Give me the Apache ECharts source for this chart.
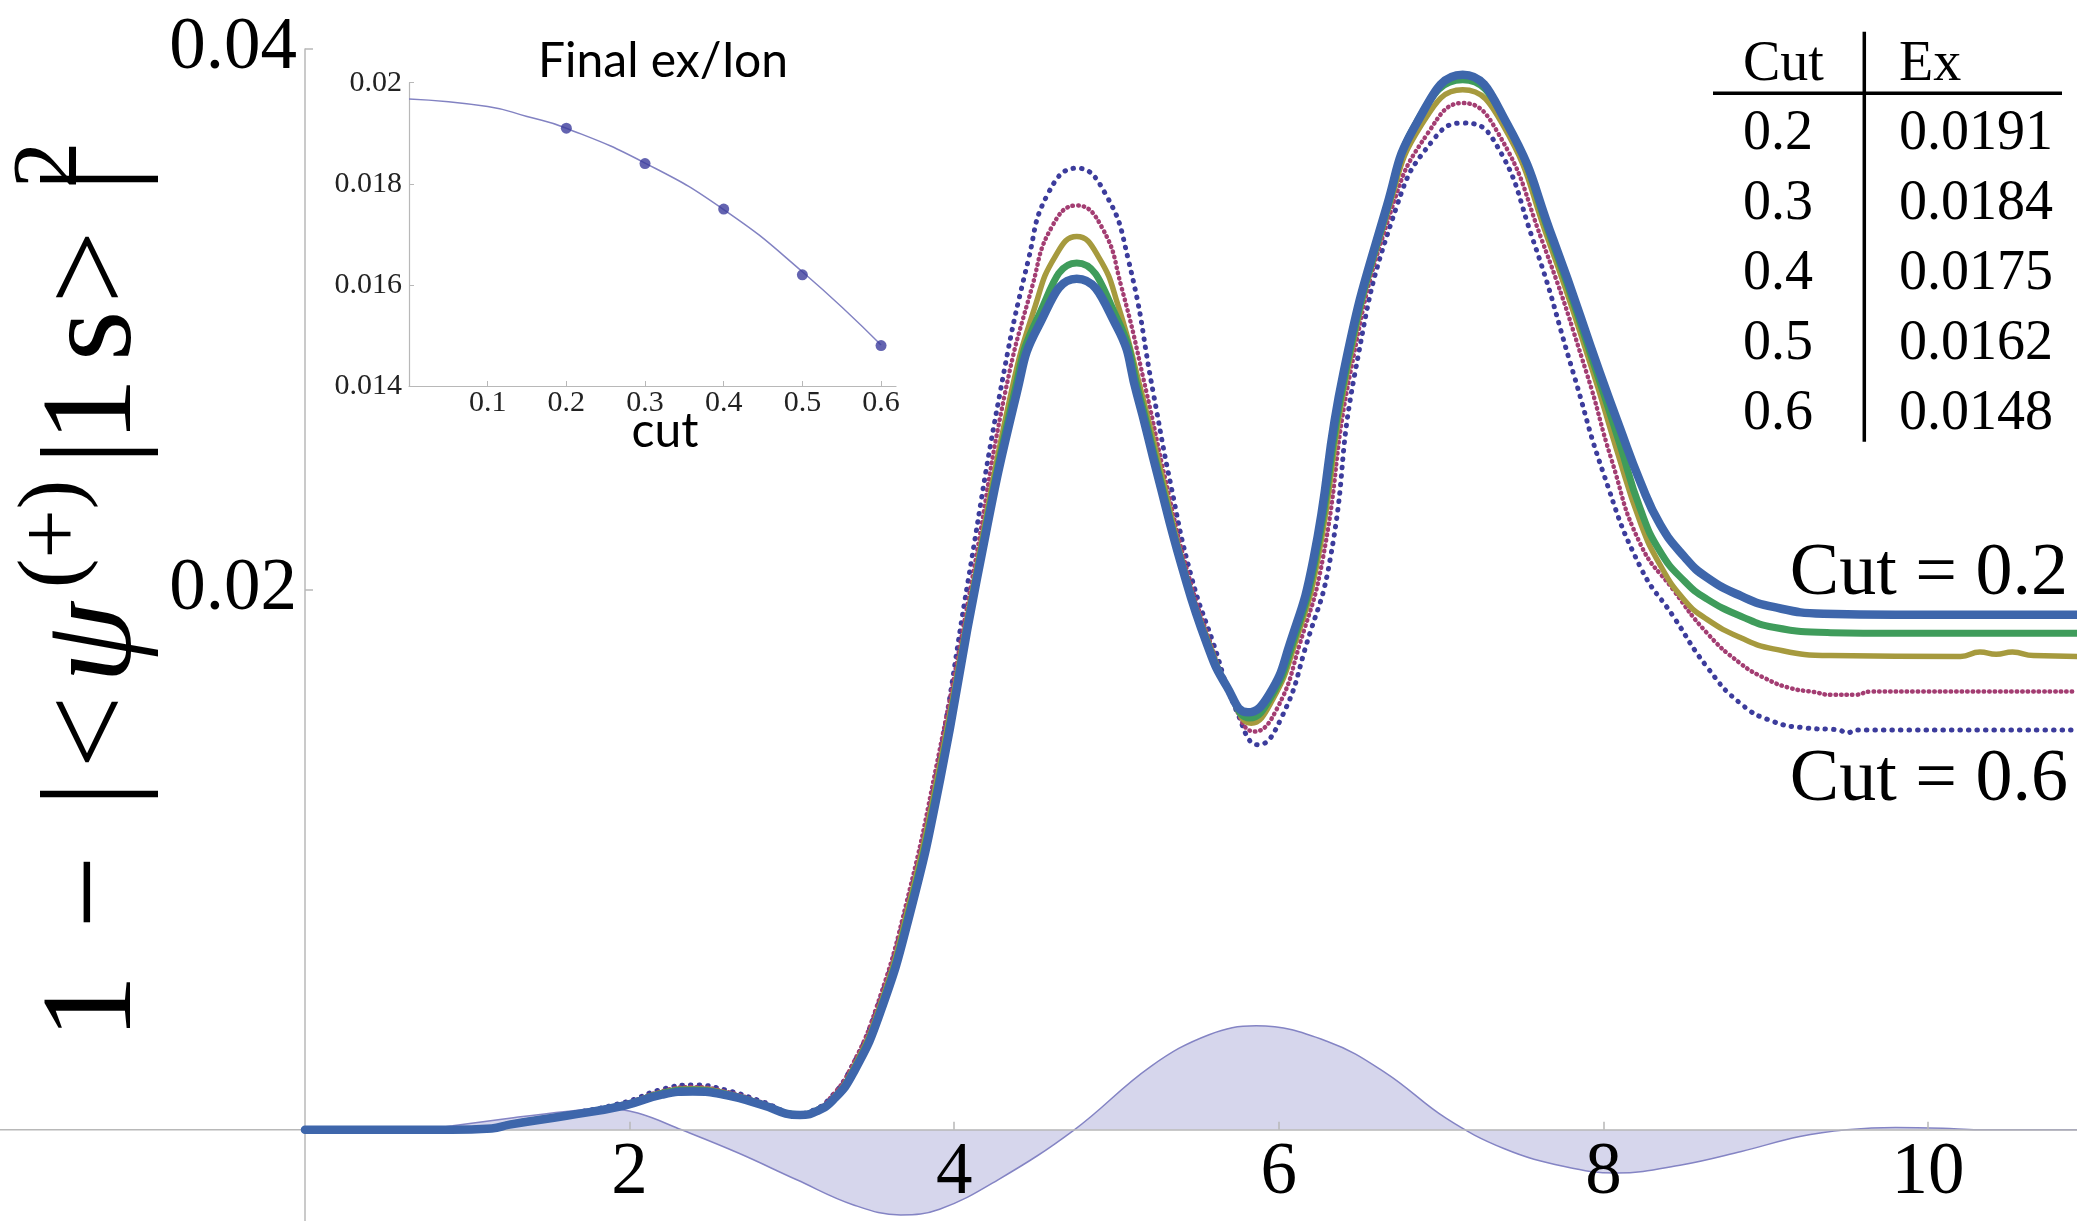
<!DOCTYPE html>
<html><head><meta charset="utf-8">
<script src="https://cdn.jsdelivr.net/npm/echarts@6/dist/echarts.min.js"></script>
<style>html,body{margin:0;padding:0;background:#fff;}#chart{width:2077px;height:1221px;}</style>
</head><body><div id="chart"></div>
<script>
// ---------- data ----------
const xTickValues = [2, 4, 6, 8, 10];
const yTickValues = [0.02, 0.04];

const cut02 = [[0,0],[0.9,0],[1.15,0.00005],[1.26,0.00019],[1.61,0.00052],[1.97,0.0009],[2.2,0.0013],[2.39,0.00142],[2.6,0.00128],[2.8,0.00095],[3.05,0.00055],[3.15,0.00068],[3.255,0.00111],[3.378,0.0021],[3.543,0.00432],[3.728,0.00802],[3.913,0.01295],[4.139,0.02036],[4.385,0.02726],[4.518,0.02973],[4.755,0.0315],[5.001,0.02973],[5.124,0.02726],[5.25,0.0243],[5.4,0.0209],[5.556,0.018],[5.68,0.0164],[5.81,0.01545],[5.94,0.0161],[6.069,0.018],[6.213,0.0211],[6.398,0.028],[6.665,0.03417],[6.85,0.03726],[7.133,0.03905],[7.404,0.03726],[7.691,0.03294],[7.979,0.028],[8.1,0.026],[8.226,0.024],[8.35,0.0224],[8.5,0.0212],[8.636,0.02045],[8.85,0.01975],[9.047,0.01935],[9.355,0.0191],[9.8,0.01906],[10.918,0.01906]];
const cut03 = [[0,0],[0.9,0],[1.15,0.00005],[1.26,0.0002],[1.61,0.00053],[1.97,0.00092],[2.2,0.00135],[2.39,0.00147],[2.6,0.00131],[2.8,0.00097],[3.05,0.00056],[3.15,0.0007],[3.253,0.00112],[3.375,0.00214],[3.54,0.00438],[3.725,0.00815],[3.91,0.0131],[4.133,0.02036],[4.37,0.02726],[4.51,0.03],[4.755,0.03208],[5.006,0.03],[5.138,0.02726],[5.26,0.0243],[5.41,0.0208],[5.562,0.018],[5.69,0.0163],[5.82,0.01524],[5.95,0.016],[6.085,0.018],[6.225,0.0211],[6.41,0.028],[6.672,0.03417],[6.86,0.0374],[7.133,0.03886],[7.39,0.0374],[7.68,0.03294],[7.96,0.028],[8.1,0.0254],[8.226,0.023],[8.35,0.0214],[8.5,0.0203],[8.636,0.01965],[8.85,0.019],[9.047,0.0186],[9.4,0.0184],[9.8,0.01838],[10.918,0.01838]];
const cut04 = [[0,0],[0.9,0],[1.15,0.00005],[1.26,0.0002],[1.61,0.00054],[1.97,0.00094],[2.2,0.00138],[2.39,0.00152],[2.6,0.00135],[2.8,0.001],[3.05,0.00057],[3.15,0.00072],[3.25,0.00115],[3.37,0.00218],[3.535,0.00445],[3.72,0.0083],[3.905,0.0133],[4.125,0.02036],[4.35,0.02726],[4.5,0.0305],[4.62,0.0323],[4.755,0.03306],[4.89,0.0323],[5.01,0.0305],[5.155,0.02726],[5.28,0.0242],[5.42,0.0207],[5.57,0.018],[5.7,0.0162],[5.83,0.01505],[5.96,0.0159],[6.1,0.018],[6.24,0.0211],[6.42,0.028],[6.68,0.03417],[6.88,0.0372],[7.133,0.03849],[7.38,0.0372],[7.66,0.03294],[7.938,0.028],[8.08,0.0252],[8.226,0.0225],[8.35,0.0209],[8.5,0.0196],[8.636,0.0189],[8.85,0.0182],[9.047,0.0178],[9.4,0.01755],[10.2,0.01752],[10.32,0.01768],[10.42,0.0176],[10.52,0.01768],[10.65,0.01755],[10.918,0.01752]];
const cut05 = [[0,0],[0.9,0],[1.15,0.00005],[1.26,0.0002],[1.61,0.00056],[1.97,0.00098],[2.2,0.00143],[2.39,0.00158],[2.6,0.0014],[2.8,0.00104],[3.05,0.00058],[3.15,0.00075],[3.24,0.0012],[3.36,0.00225],[3.525,0.0046],[3.71,0.0085],[3.895,0.0136],[4.11,0.02036],[4.313,0.02726],[4.48,0.0312],[4.6,0.0334],[4.755,0.03421],[4.91,0.0334],[5.03,0.0312],[5.186,0.02726],[5.3,0.0241],[5.44,0.0206],[5.58,0.018],[5.72,0.0158],[5.85,0.01474],[5.99,0.0156],[6.13,0.018],[6.27,0.0211],[6.44,0.028],[6.7,0.03417],[6.92,0.0369],[7.133,0.038],[7.35,0.0369],[7.62,0.03294],[7.897,0.028],[8.05,0.0248],[8.226,0.0217],[8.431,0.01998],[8.636,0.0184],[8.842,0.01727],[9.0,0.0167],[9.15,0.01635],[9.3,0.0162],[9.4,0.0161],[9.55,0.0161],[9.65,0.01622],[10.918,0.01622]];
const cut06 = [[0,0],[0.9,0],[1.15,0.00005],[1.26,0.00021],[1.61,0.00057],[1.97,0.00102],[2.2,0.0015],[2.39,0.00166],[2.6,0.00146],[2.8,0.00108],[3.05,0.0006],[3.15,0.00078],[3.225,0.00111],[3.348,0.0021],[3.513,0.00432],[3.698,0.00802],[3.883,0.01295],[4.087,0.02036],[4.282,0.02726],[4.457,0.0322],[4.58,0.03467],[4.755,0.03559],[4.929,0.03467],[5.073,0.0322],[5.227,0.02726],[5.33,0.0240],[5.46,0.0205],[5.597,0.018],[5.74,0.0155],[5.874,0.01425],[6.02,0.0153],[6.172,0.018],[6.316,0.0211],[6.469,0.028],[6.726,0.03417],[6.952,0.03664],[7.133,0.03726],[7.322,0.03664],[7.566,0.03294],[7.815,0.028],[8.0,0.0243],[8.226,0.02085],[8.431,0.019],[8.636,0.01715],[8.842,0.01579],[9.047,0.01511],[9.253,0.01487],[9.45,0.0148],[9.5,0.01469],[9.56,0.0148],[10.918,0.0148]];
const wave = [[0,0],[0.69,0],[0.91,0.00015],[1.26,0.00043],[1.61,0.00068],[1.85,0.0008],[2.05,0.00062],[2.32,0],[2.67,-0.00086],[3.03,-0.00185],[3.38,-0.00278],[3.67,-0.00315],[3.91,-0.00294],[4.27,-0.00185],[4.74,0],[5.21,0.00234],[5.57,0.00352],[5.86,0.00385],[6.3,0.00327],[6.66,0.0021],[7.03,0.00043],[7.39,-0.0007],[7.76,-0.00136],[8.08,-0.0016],[8.48,-0.0013],[8.85,-0.0008],[9.21,-0.00025],[9.5,0],[9.8,0.00009],[10.09,0.00006],[10.31,0],[10.918,0]];

const cutValues = [0.2, 0.3, 0.4, 0.5, 0.6];
const exValues = [0.0191, 0.0184, 0.0175, 0.0162, 0.0148];
const exFit = [[0,0.01968],[0.1,0.01953],[0.15,0.01933],[0.2,0.0191],[0.3,0.01841],[0.4,0.01749],[0.5,0.01626],[0.6,0.01481]];
const insetXTicks = [0.1, 0.2, 0.3, 0.4, 0.5, 0.6];
const insetYTicks = [0.014, 0.016, 0.018, 0.02];

// ---------- styling ----------
const SERIF = "'Liberation Serif','Times New Roman',serif";
const SANS = "Lato,'Open Sans',sans-serif";
const axisGray = '#b8b8b8';
const colors = {c02:'#3e66ab', c03:'#3f9c5b', c04:'#a69a3e', c05:'#a33d72', c06:'#3c3c9c'};

const Y_MIN = -0.003375, Y_MAX = 0.04;
const G_TOP = 49, G_LEFT = 305, H = 1221;
const zeroY = G_TOP + (H - G_TOP) * (Y_MAX / (Y_MAX - Y_MIN));

function txt(text, x, y, size, opts) {
  opts = opts || {};
  return {type:'text', x:x, y:y, rotation: opts.rot || 0, z: 100,
    style:{text:text, fontFamily: opts.family || SERIF, fontSize:size, fontStyle: opts.italic ? 'italic':'normal',
      fontWeight: opts.weight || 'normal',
      fill:'#000', align: opts.align || 'left', verticalAlign:'middle'}};
}

const graphics = [];
// x-axis line continuing to the left of the y-axis
graphics.push({type:'line', z:0, shape:{x1:0, y1:zeroY, x2:G_LEFT, y2:zeroY}, style:{stroke:axisGray, lineWidth:1.5}});
// rotated y-axis title: 1 − |<ψ^(+)|1s>|^2
const R = Math.PI/2;
[['1',1007],['−',892],['|',794],['<',732],['|',452],['1',410],['s',336],['>',267],['|',179]].forEach(p=>{
  graphics.push(txt(p[0], 96, p[1], 130, {rot:R, align:'center'}));
});
graphics.push(txt('ψ', 96, 643, 130, {rot:R, align:'center', italic:true}));
graphics.push(txt('(+)', 56, 534, 88, {rot:R, align:'center'}));
graphics.push(txt('2', 51, 165, 94, {rot:R, align:'center'}));

// table
graphics.push({type:'line', z:100, shape:{x1:1864.3,y1:31.7,x2:1864.3,y2:441.7}, style:{stroke:'#000', lineWidth:3.5}});
graphics.push({type:'line', z:100, shape:{x1:1713,y1:93.3,x2:2062,y2:93.3}, style:{stroke:'#000', lineWidth:3.5}});
graphics.push(txt('Cut', 1743, 65, 56));
graphics.push(txt('Ex', 1899, 65, 56));
const rowBase = [150, 220.7, 290.7, 360.7, 430];
cutValues.forEach((c,i)=>{
  graphics.push(txt(c.toFixed(1), 1743, rowBase[i]-16, 56));
  graphics.push(txt(exValues[i].toFixed(4), 1899, rowBase[i]-16, 56));
});
// curve labels
graphics.push(txt('Cut = ' + cutValues[0].toFixed(1), 2068, 575, 74, {align:'right'}));
graphics.push(txt('Cut = ' + cutValues[4].toFixed(1), 2068, 781, 74, {align:'right'}));
// inset title & axis name
graphics.push(txt('Final ex/Ion', 663, 62, 48, {family:SANS, align:'center'}));
graphics.push(txt('cut', 665, 432, 48, {family:SANS, align:'center'}));

function mainLine(name, data, color, width, dash, z) {
  return {name, type:'line', xAxisIndex:0, yAxisIndex:0, data, symbol:'none', smooth:0.5, z,
    lineStyle:{color, width, type: dash || 'solid', cap:'round', join:'round'}};
}

const option = {
  animation:false,
  backgroundColor:'#fff',
  grid:[
    {left:G_LEFT, right:0, top:G_TOP, bottom:0, outerBoundsMode:'none'},
    {left:409, top:82.7, width:487, height:303.3, outerBoundsMode:'none'}
  ],
  xAxis:[
    {type:'value', gridIndex:0, min:0, max:10.918, position:'bottom', offset: -(H - zeroY), z:3,
      axisLine:{onZero:false, lineStyle:{color:axisGray, width:1.5}},
      axisTick:{show:true, inside:true, length:8, customValues:xTickValues, lineStyle:{color:axisGray, width:1.5}},
      axisLabel:{customValues:xTickValues, fontFamily:SERIF, fontSize:73, color:'#000', margin:8, formatter:v=>String(v)},
      splitLine:{show:false}},
    {type:'value', gridIndex:1, min:0, max:0.619,
      axisLine:{onZero:false, lineStyle:{color:axisGray, width:1.2}},
      axisTick:{show:true, inside:true, length:5, customValues:insetXTicks, lineStyle:{color:axisGray}},
      axisLabel:{customValues:insetXTicks, fontFamily:SERIF, fontSize:30, color:'#222', margin:2, formatter:v=>v.toFixed(1)},
      splitLine:{show:false}}
  ],
  yAxis:[
    {type:'value', gridIndex:0, min:Y_MIN, max:Y_MAX, position:'left', z:3,
      axisLine:{show:true, onZero:false, lineStyle:{color:axisGray, width:1.5}},
      axisTick:{show:true, inside:true, length:8, customValues:yTickValues, lineStyle:{color:axisGray, width:1.5}},
      axisLabel:{customValues:yTickValues, fontFamily:SERIF, fontSize:73, color:'#000', margin:8, formatter:v=>v.toFixed(2)},
      splitLine:{show:false}},
    {type:'value', gridIndex:1, min:0.014, max:0.02,
      axisLine:{show:true, onZero:false, lineStyle:{color:axisGray, width:1.2}},
      axisTick:{show:true, inside:true, length:5, customValues:insetYTicks, lineStyle:{color:axisGray}},
      axisLabel:{customValues:insetYTicks, fontFamily:SERIF, fontSize:30, color:'#222', margin:7, formatter:v=>String(+v.toFixed(3))},
      splitLine:{show:false}}
  ],
  series:[
    {name:'wave', type:'line', xAxisIndex:0, yAxisIndex:0, data:wave, symbol:'none', smooth:0.4, z:1,
      lineStyle:{color:'#8484c4', width:1.5}, areaStyle:{color:'#d6d6ec', opacity:1, origin:0}},
    mainLine('Cut 0.6', cut06, colors.c06, 5, [0.5, 8], 4),
    mainLine('Cut 0.5', cut05, colors.c05, 4.5, [0.5, 5], 5),
    mainLine('Cut 0.4', cut04, colors.c04, 5.5, 'solid', 6),
    mainLine('Cut 0.3', cut03, colors.c03, 7, 'solid', 7),
    mainLine('Cut 0.2', cut02, colors.c02, 8.5, 'solid', 8),
    {name:'fit', type:'line', xAxisIndex:1, yAxisIndex:1, data:exFit, symbol:'none', smooth:0.5, z:9,
      lineStyle:{color:'#8282c2', width:1.5}},
    {name:'ex', type:'scatter', xAxisIndex:1, yAxisIndex:1, data:cutValues.map((c,i)=>[c, exValues[i]]),
      symbol:'circle', symbolSize:11, itemStyle:{color:'#3c3c9c'}, z:10}
  ],
  graphic: graphics
};
const chart = echarts.init(document.getElementById('chart'), null, {renderer:'canvas'});
chart.setOption(option);
</script>
</body></html>
